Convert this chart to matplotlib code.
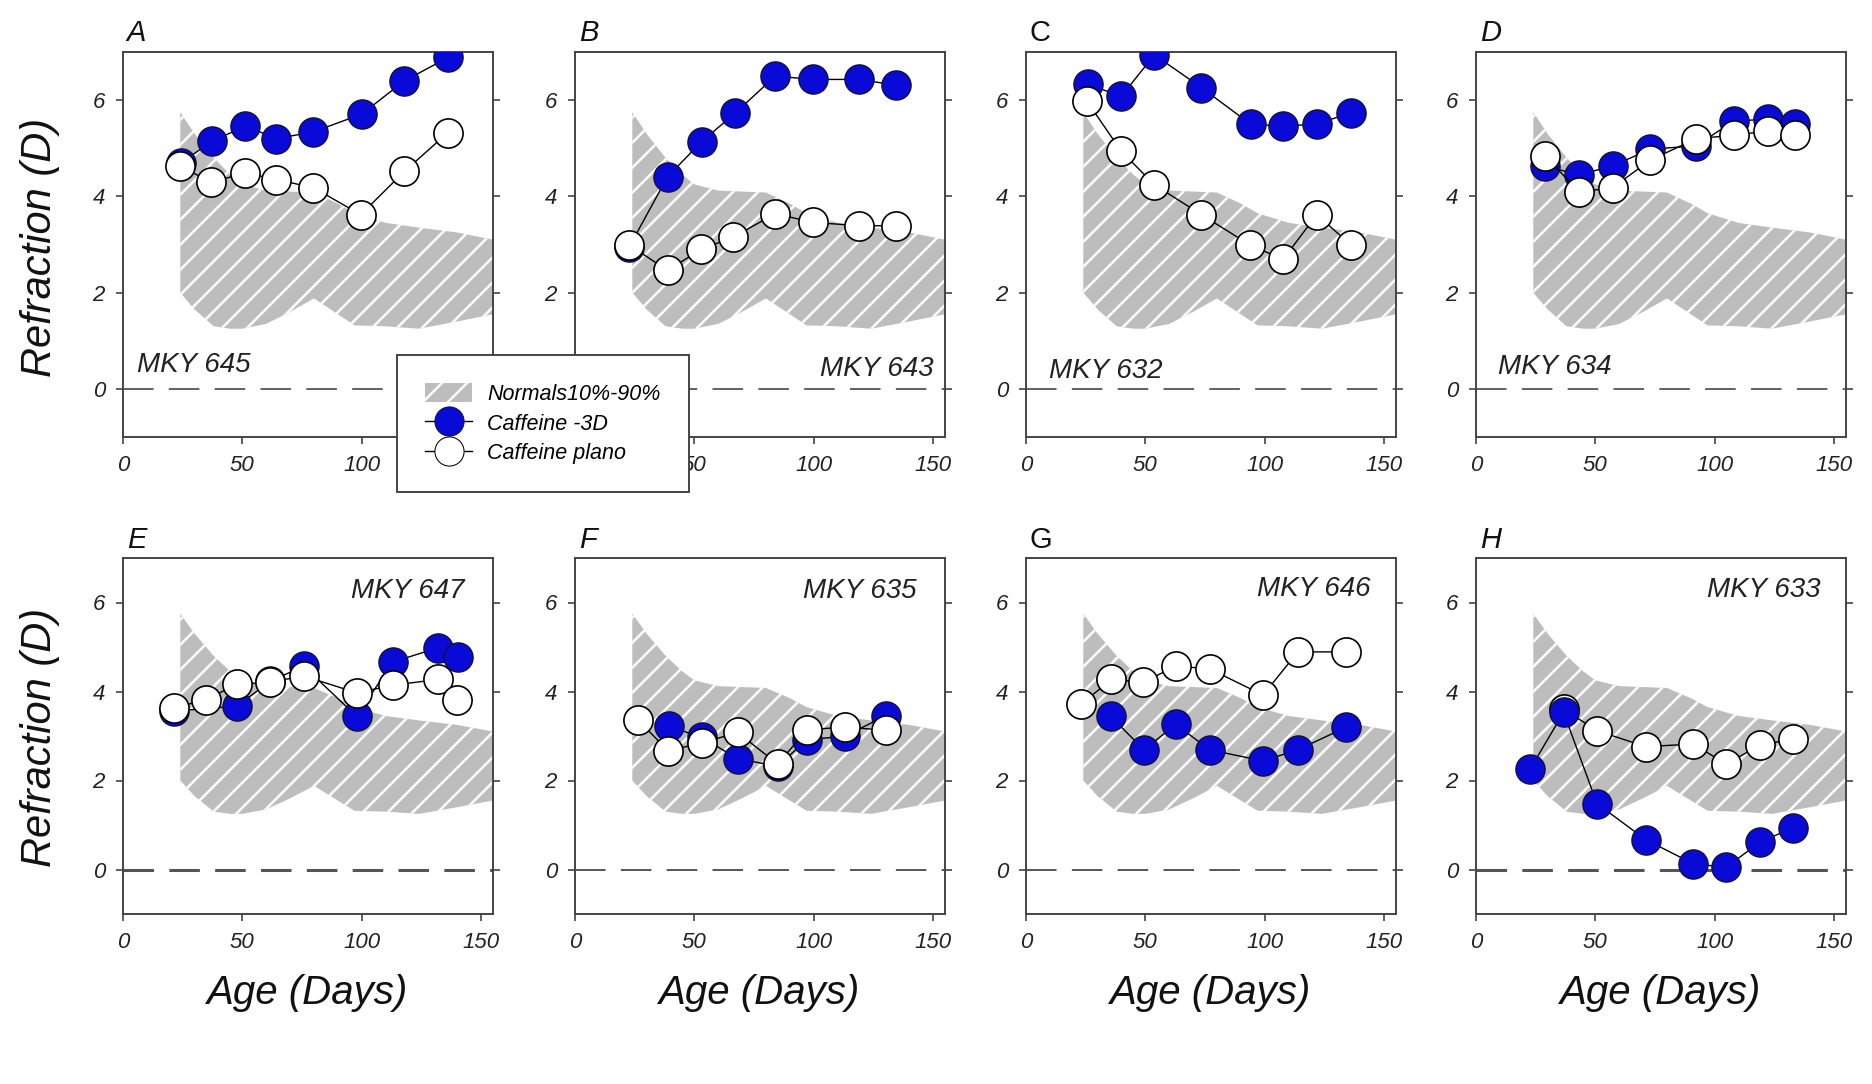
import matplotlib
matplotlib.use("Agg")
import matplotlib.pyplot as plt
from matplotlib.patches import Patch
from matplotlib.lines import Line2D

# figure is drawn at 75 dpi (so the hatch spacing matches), sizes below are
# given as if at 100 dpi and scaled by S
DPI = 75
S = 100 / DPI

plt.rcParams['font.family'] = ['Liberation Sans', 'DejaVu Sans']
plt.rcParams['hatch.linewidth'] = 1.8 * S

# normal range (10%-90%) shared by all panels
normals_age = [24, 30, 38, 45, 50, 60, 70, 80, 90, 97, 110, 124, 140, 157]
normals_hi = [5.75, 5.3, 4.8, 4.45, 4.25, 4.12, 4.1, 4.08, 3.85, 3.65, 3.45, 3.35, 3.25, 3.08]
normals_lo = [2.0, 1.65, 1.3, 1.25, 1.25, 1.35, 1.6, 1.88, 1.55, 1.32, 1.3, 1.25, 1.4, 1.57]

letters = ['A', 'B', 'C', 'D', 'E', 'F', 'G', 'H']
animals = ['MKY 645', 'MKY 643', 'MKY 632', 'MKY 634',
           'MKY 647', 'MKY 635', 'MKY 646', 'MKY 633']

# Caffeine -3D (blue)
neg3_age = [
    [24.4, 37.4, 51.3, 64.3, 79.8, 100, 117.9, 136.3],
    [22.7, 38.8, 53.1, 67.1, 83.9, 99.7, 119, 134.6],
    [25.8, 39.9, 53.8, 73.5, 94.1, 107.7, 121.8, 136.1],
    [28.8, 43.1, 57.2, 72.9, 92.3, 108, 122.5, 133.7],
    [21.5, 47.7, 61.7, 75.7, 97.9, 112.9, 131.8, 140.3],
    [39.2, 53.1, 68.1, 84.9, 97.2, 112.9, 130.3],
    [35.5, 49.4, 62.8, 76.9, 99.3, 113.9, 134.2],
    [22.6, 36.7, 50.7, 71.1, 91, 104.8, 119.1, 132.9],
]
neg3_ref = [
    [4.70, 5.15, 5.46, 5.20, 5.34, 5.71, 6.40, 6.89],
    [2.95, 4.41, 5.14, 5.73, 6.50, 6.43, 6.43, 6.31],
    [6.33, 6.08, 6.94, 6.26, 5.50, 5.46, 5.50, 5.74],
    [4.63, 4.45, 4.63, 4.98, 5.05, 5.57, 5.60, 5.50],
    [3.56, 3.67, 4.23, 4.57, 3.44, 4.66, 4.98, 4.77],
    [3.22, 2.97, 2.49, 2.32, 2.92, 2.99, 3.46],
    [3.44, 2.69, 3.26, 2.69, 2.44, 2.69, 3.20],
    [2.25, 3.53, 1.48, 0.67, 0.13, 0.05, 0.62, 0.94],
]

# Caffeine plano (white)
plano_age = [
    [24, 37, 51.3, 64.3, 79.8, 99.6, 117.9, 136],
    [22.7, 38.8, 52.8, 66.1, 83.9, 99.7, 119, 134.6],
    [25.5, 39.9, 53.8, 73.5, 93.8, 107.7, 121.8, 136.1],
    [29.1, 43.1, 57.2, 72.9, 92.3, 108, 122.5, 133.7],
    [21.5, 34.8, 47.7, 61.7, 75.7, 97.9, 112.9, 131.8, 139.9],
    [26.2, 39, 53.1, 68.1, 84.9, 97.2, 112.9, 130.3],
    [22.9, 35.8, 49.1, 62.8, 76.9, 99.3, 113.9, 134.2],
    [36.7, 50.7, 71.1, 91, 104.8, 119.1, 132.9],
]
plano_ref = [
    [4.63, 4.29, 4.49, 4.35, 4.18, 3.62, 4.52, 5.32],
    [2.99, 2.46, 2.90, 3.15, 3.64, 3.46, 3.39, 3.39],
    [5.98, 4.94, 4.24, 3.62, 2.99, 2.69, 3.62, 2.99],
    [4.84, 4.09, 4.18, 4.75, 5.20, 5.27, 5.36, 5.27],
    [3.63, 3.82, 4.16, 4.21, 4.35, 3.97, 4.14, 4.27, 3.82],
    [3.37, 2.67, 2.84, 3.08, 2.37, 3.14, 3.20, 3.13],
    [3.71, 4.27, 4.21, 4.57, 4.51, 3.92, 4.89, 4.89],
    [3.60, 3.12, 2.76, 2.82, 2.37, 2.80, 2.93],
]

# label positions (data coords) and alignment
label_pos = [(6, 0.5, 'left'), (150, 0.42, 'right'), (9.8, 0.38, 'left'), (9.4, 0.45, 'left'),
             (143, 6.26, 'right'), (143, 6.26, 'right'), (144.5, 6.3, 'right'), (144.4, 6.27, 'right')]
zero_lw = [1.3, 1.3, 1.3, 1.3, 2.2, 1.4, 1.4, 2.2]

W, H = 1872, 1084
fig = plt.figure(figsize=(W / DPI, H / DPI), dpi=DPI)

col_left = [123, 575, 1026, 1476]
row_top = [52, 558]
row_bot = [437, 914]

band_gray = '#bdbdbd'
spine_col = '#444444'
blue = '#0a0ad8'
MS = 21 * S

for i in range(8):
    r, c = divmod(i, 4)
    l = col_left[c] / W
    b = 1 - row_bot[r] / H
    h = (row_bot[r] - row_top[r]) / H
    ax = fig.add_axes([l, b, 370 / W, h])

    ax.fill_between(normals_age, normals_lo, normals_hi, facecolor=band_gray,
                    edgecolor='white', linewidth=0, hatch='/', zorder=1)
    ax.axhline(0, color='#555555', lw=zero_lw[i] * S,
               ls=(0, (22 / zero_lw[i], 11 / zero_lw[i])), zorder=2)

    blue_z = 5 if letters[i] == 'H' else 3
    ax.plot(neg3_age[i], neg3_ref[i], '-o', color='black', lw=1 * S, ms=MS,
            mfc=blue, mec='#111133', mew=1.0 * S, zorder=blue_z)
    ax.plot(plano_age[i], plano_ref[i], '-o', color='black', lw=1 * S, ms=MS,
            mfc='white', mec='black', mew=1.2 * S, zorder=4)

    ax.set_xlim(0, 155)
    ax.set_ylim(-1, 7)
    ax.set_xticks([0, 50, 100, 150])
    ax.set_yticks([0, 2, 4, 6])
    ax.tick_params(direction='out', length=5 * S, width=1.2 * S, color=spine_col,
                   labelsize=16 * S, pad=8 * S, right=True, top=False)
    for lab in ax.get_xticklabels() + ax.get_yticklabels():
        lab.set_fontstyle('italic')
        lab.set_color('#222222')
    for sp in ax.spines.values():
        sp.set_color(spine_col)
        sp.set_linewidth(1.4 * S)

    lx, ly, ha = label_pos[i]
    ax.text(lx, ly, animals[i], ha=ha, va='center', fontsize=20 * S,
            style='italic', color='#222222', zorder=6)

    st = 'normal' if letters[i] in ('C', 'G') else 'italic'
    ax.text(0.01, 1.012, letters[i], transform=ax.transAxes, ha='left',
            va='bottom', fontsize=21 * S, style=st, color='#111111')

    if r == 1:
        ax.text(0.5, -0.222, 'Age (Days)', transform=ax.transAxes, ha='center',
                va='center', fontsize=29 * S, style='italic', color='#111111')

fig.text(40 / W, 1 - 247 / H, 'Refraction (D)', rotation=90, ha='center',
         va='center', fontsize=30 * S, style='italic', color='#111111')
fig.text(40 / W, 1 - 737 / H, 'Refraction (D)', rotation=90, ha='center',
         va='center', fontsize=30 * S, style='italic', color='#111111')

handles = [
    Patch(facecolor=band_gray, edgecolor='white', linewidth=0, hatch='/'),
    Line2D([], [], color='black', lw=1 * S, marker='o', ms=MS, mfc=blue, mec='#111133'),
    Line2D([], [], color='black', lw=1 * S, marker='o', ms=MS, mfc='white', mec='black'),
]
leg = fig.legend(handles, ['Normals10%-90%', 'Caffeine -3D', 'Caffeine plano'],
                 loc='upper left', bbox_to_anchor=(397 / W, 1 - 355 / H),
                 fancybox=False, edgecolor=spine_col, framealpha=1,
                 prop={'size': 15.5 * S, 'style': 'italic'}, handlelength=2.2,
                 handleheight=1.0, labelspacing=0.35, borderpad=1.3,
                 handletextpad=0.7, borderaxespad=0)
leg.get_frame().set_linewidth(1.4 * S)
leg.set_zorder(10)

fig.savefig('out.png', dpi=DPI)
